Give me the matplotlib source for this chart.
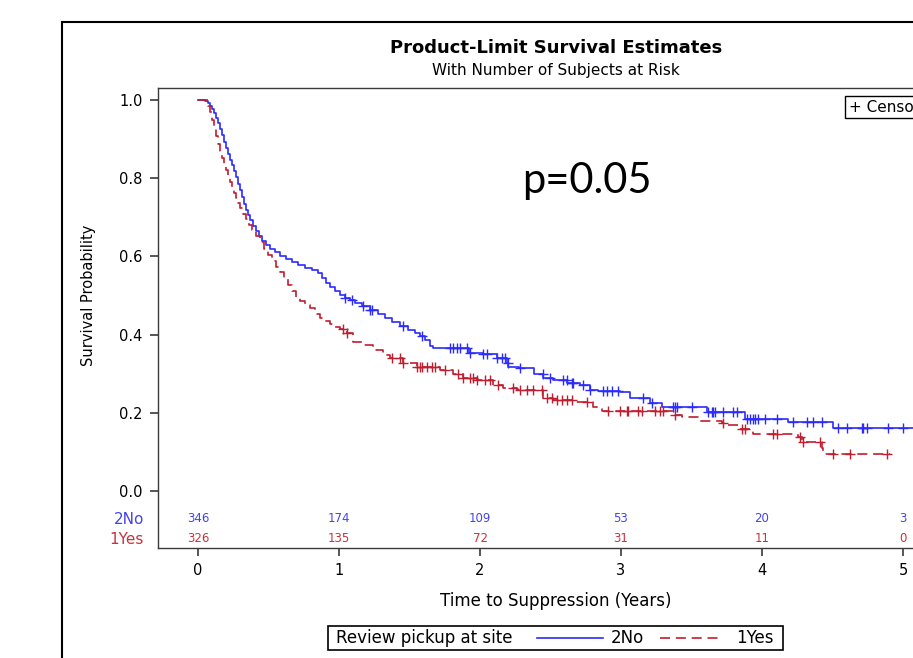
import numpy as np
import matplotlib
matplotlib.use("Agg")
import matplotlib.pyplot as plt
from matplotlib.lines import Line2D
from matplotlib.patches import Rectangle

# ---------------- data ----------------
no_t = [0.000, 0.050, 0.071, 0.085, 0.099, 0.113, 0.128, 0.142, 0.156, 0.170, 0.184, 0.199,
        0.213, 0.227, 0.241, 0.255, 0.270, 0.284, 0.298, 0.312, 0.326, 0.340, 0.355, 0.369,
        0.390, 0.411, 0.433, 0.454, 0.482, 0.511, 0.546, 0.582, 0.624, 0.667, 0.709, 0.759,
        0.809, 0.851, 0.879, 0.908, 0.936, 0.972, 1.007, 1.043, 1.078, 1.113, 1.163, 1.220,
        1.277, 1.326, 1.376, 1.433, 1.489, 1.539, 1.574, 1.610, 1.645, 1.667, 1.922, 2.02,
        2.12, 2.19, 2.20, 2.28, 2.38, 2.45, 2.52, 2.62, 2.71, 2.78, 2.84, 2.99, 3.064, 3.206,
        3.29, 3.61, 3.879, 4.184, 4.504, 5.30]
no_s = [1.000, 0.997, 0.992, 0.985, 0.977, 0.967, 0.954, 0.941, 0.926, 0.910, 0.893, 0.877,
        0.862, 0.847, 0.834, 0.818, 0.803, 0.785, 0.770, 0.752, 0.734, 0.719, 0.706, 0.693,
        0.678, 0.665, 0.652, 0.639, 0.629, 0.619, 0.611, 0.601, 0.593, 0.586, 0.578, 0.570,
        0.565, 0.558, 0.545, 0.532, 0.522, 0.512, 0.501, 0.494, 0.488, 0.481, 0.473, 0.463,
        0.453, 0.442, 0.432, 0.422, 0.412, 0.404, 0.396, 0.386, 0.371, 0.366, 0.353, 0.350,
        0.340, 0.327, 0.317, 0.315, 0.300, 0.290, 0.284, 0.276, 0.271, 0.258, 0.256, 0.253,
        0.238, 0.225, 0.215, 0.202, 0.184, 0.176, 0.161, 0.161]

yes_t = [0.000, 0.071, 0.085, 0.099, 0.113, 0.128, 0.142, 0.156, 0.170, 0.184, 0.199, 0.213,
         0.227, 0.241, 0.255, 0.270, 0.284, 0.298, 0.319, 0.340, 0.362, 0.383, 0.411, 0.440,
         0.468, 0.496, 0.525, 0.553, 0.582, 0.610, 0.638, 0.667, 0.695, 0.723, 0.759, 0.794,
         0.830, 0.865, 0.901, 0.936, 0.972, 1.007, 1.057, 1.099, 1.170, 1.241, 1.312, 1.362,
         1.454, 1.553, 1.716, 1.809, 1.879, 1.979, 2.092, 2.163, 2.262, 2.447, 2.518, 2.660,
         2.801, 2.865, 3.369, 3.433, 3.560, 3.716, 3.738, 3.830, 3.936, 4.255, 4.284, 4.426,
         4.433, 4.908]
yes_s = [1.000, 0.985, 0.969, 0.949, 0.928, 0.908, 0.887, 0.867, 0.852, 0.836, 0.821, 0.803,
         0.790, 0.777, 0.762, 0.749, 0.737, 0.724, 0.708, 0.696, 0.680, 0.668, 0.652, 0.637,
         0.619, 0.604, 0.588, 0.573, 0.560, 0.545, 0.527, 0.512, 0.496, 0.486, 0.476, 0.468,
         0.453, 0.442, 0.435, 0.427, 0.419, 0.414, 0.404, 0.381, 0.373, 0.360, 0.348, 0.340,
         0.327, 0.317, 0.310, 0.300, 0.290, 0.284, 0.271, 0.263, 0.258, 0.238, 0.233, 0.228,
         0.215, 0.204, 0.194, 0.189, 0.179, 0.174, 0.169, 0.159, 0.146, 0.138, 0.125, 0.110,
         0.095, 0.095]

no_cens = [1.043, 1.092, 1.170, 1.220, 1.234, 1.454, 1.589, 1.787, 1.809, 1.837, 1.858, 1.908,
           1.929, 2.021, 2.050, 2.121, 2.156, 2.177, 2.199, 2.284, 2.447, 2.496, 2.589, 2.617,
           2.652, 2.660, 2.730, 2.780, 2.872, 2.901, 2.936, 2.979, 3.156, 3.220, 3.369, 3.383,
           3.397, 3.504, 3.617, 3.645, 3.652, 3.667, 3.723, 3.794, 3.823, 3.894, 3.915, 3.936,
           3.950, 3.972, 4.021, 4.106, 4.220, 4.319, 4.362, 4.426, 4.539, 4.603, 4.709, 4.716,
           4.745, 4.894, 5.000]
yes_cens = [1.028, 1.057, 1.376, 1.433, 1.454, 1.553, 1.574, 1.589, 1.624, 1.660, 1.681, 1.752,
            1.844, 1.879, 1.929, 1.950, 1.979, 2.035, 2.071, 2.128, 2.234, 2.284, 2.333, 2.376,
            2.440, 2.475, 2.511, 2.546, 2.582, 2.617, 2.652, 2.759, 2.908, 2.993, 3.043, 3.050,
            3.121, 3.149, 3.241, 3.277, 3.298, 3.383, 3.723, 3.858, 3.879, 4.078, 4.106, 4.270,
            4.291, 4.411, 4.504, 4.624, 4.887]

risk_times = [0, 1, 2, 3, 4, 5]
risk_no = [346, 174, 109, 53, 20, 3]
risk_yes = [326, 135, 72, 31, 11, 0]

groups = ["2No", "1Yes"]
y_ticks = [0.0, 0.2, 0.4, 0.6, 0.8, 1.0]
x_ticks = [0, 1, 2, 3, 4, 5]

BLUE = "#2b2bff"
RED = "#bf1e2e"
BLUE_TXT = "#4444ee"
RED_TXT = "#c8323f"

def step_at(t, ts, ss):
    idx = np.searchsorted(np.asarray(ts), np.asarray(t), side="right") - 1
    return np.asarray(ss)[np.clip(idx, 0, len(ss) - 1)]

# ---------------- figure ----------------
plt.rcParams["font.family"] = ["DejaVu Sans"]
W, H = 913, 658
fig = plt.figure(figsize=(W / 100, H / 100), dpi=100)

def fx(px):
    return px / W

def fy(py):
    return 1 - py / H

# outer border of the screenshot
fig.patches.append(Rectangle((fx(62), fy(700)), 1.2, fy(22) - fy(700),
                             transform=fig.transFigure, fill=False, ec="black", lw=1.5,
                             clip_on=False))

ax_left, ax_right, ax_top, ax_bot = 158, 935, 88, 548
ax = fig.add_axes([fx(ax_left), fy(ax_bot), fx(ax_right - ax_left), (ax_bot - ax_top) / H])
x0_px, px_per_x = 198, 141
y0_px, px_per_y = 491, 391
ax.set_xlim((ax_left - x0_px) / px_per_x, (ax_right - x0_px) / px_per_x)
ax.set_ylim((y0_px - ax_bot) / px_per_y, (y0_px - ax_top) / px_per_y)

for s in ax.spines.values():
    s.set_color("#3a3a3a")
    s.set_linewidth(1.0)

ax.step(no_t, no_s, where="post", color=BLUE, lw=1.2, zorder=3)
ax.step(yes_t, yes_s, where="post", color=RED, lw=1.2, dashes=(6, 3.5), zorder=3)
ax.plot(no_cens, step_at(no_cens, no_t, no_s), ls="none", marker="+", ms=7, mew=1.0,
        color=BLUE, zorder=4)
ax.plot(yes_cens, step_at(yes_cens, yes_t, yes_s), ls="none", marker="+", ms=7, mew=1.0,
        color=RED, zorder=4)

ax.set_yticks(y_ticks)
ax.set_yticklabels([f"{v:.1f}" for v in y_ticks])
ax.set_xticks(x_ticks)
ax.set_xticklabels([str(v) for v in x_ticks])
ax.tick_params(axis="both", direction="out", length=6, width=1.2, color="#3a3a3a",
               labelsize=10.5, pad=5)
ax.set_ylabel("Survival Probability", fontsize=10.5, va="center")
ax.yaxis.set_label_coords((88 - ax_left) / (ax_right - ax_left), 0.5 + (ax_top + ax_bot - 2 * 295) / 2 / (ax_bot - ax_top))
ax.set_xlabel("Time to Suppression (Years)", fontsize=12, va="center")
ax.xaxis.set_label_coords((556 - ax_left) / (ax_right - ax_left), (ax_bot - 601) / (ax_bot - ax_top))

# at-risk table
y_no = (y0_px - 519) / px_per_y
y_yes = (y0_px - 539) / px_per_y
for t, n in zip(risk_times, risk_no):
    ax.text(t, y_no, str(n), color=BLUE_TXT, fontsize=8.5, ha="center", va="center")
for t, n in zip(risk_times, risk_yes):
    ax.text(t, y_yes, str(n), color=RED_TXT, fontsize=8.5, ha="center", va="center")
fig.text(fx(144), fy(519), groups[0], color=BLUE_TXT, fontsize=11, ha="right", va="center")
fig.text(fx(144), fy(539), groups[1], color=RED_TXT, fontsize=11, ha="right", va="center")

# titles
fig.text(fx(556), fy(48), "Product-Limit Survival Estimates", fontsize=13,
         fontweight="bold", ha="center", va="center")
fig.text(fx(556), fy(70), "With Number of Subjects at Risk", fontsize=11,
         ha="center", va="center")

# p value annotation
fig.text(fx(522), fy(181), "p=0.05", fontsize=30, family=["Lato", "DejaVu Sans"],
         ha="left", va="center")

# censored legend box
fig.text(fx(849), fy(107), "+ Censored", fontsize=11, ha="left", va="center",
         bbox=dict(boxstyle="square,pad=0.25", fc="white", ec="black", lw=1.0))

# bottom legend
fig.patches.append(Rectangle((fx(328), fy(650)), fx(783 - 328), (650 - 626) / H,
                             transform=fig.transFigure, fill=False, ec="black", lw=1.2))
fig.text(fx(336), fy(638), "Review pickup at site", fontsize=12, ha="left", va="center")
fig.lines.append(Line2D([fx(537), fx(603)], [fy(638), fy(638)], transform=fig.transFigure,
                        color=BLUE, lw=1.2))
fig.text(fx(611), fy(638), groups[0], fontsize=12, ha="left", va="center")
fig.lines.append(Line2D([fx(660), fx(722)], [fy(638), fy(638)], transform=fig.transFigure,
                        color=RED, lw=1.2, dashes=(6, 3.5)))
fig.text(fx(736), fy(638), groups[1], fontsize=12, ha="left", va="center")

fig.savefig("out.png", dpi=100)
